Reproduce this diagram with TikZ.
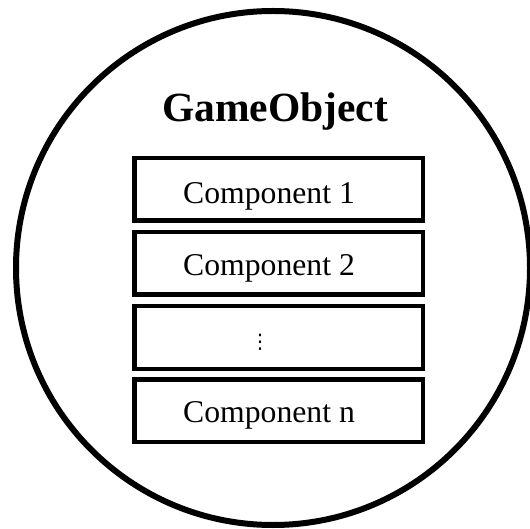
\documentclass[tikz,border=0pt]{standalone}
\usepackage{fontspec}
\setmainfont{Liberation Serif}
\newfontfamily\dvsans{DejaVu Sans}
\begin{document}
\begin{tikzpicture}[x=1pt,y=-1pt,
  compbox/.style={draw, line width=4.5pt, minimum width=288.5pt, minimum height=62.5pt, inner sep=0pt},
  comptext/.style={anchor=base, inner sep=0pt, font=\fontsize{31.7}{38}\selectfont},
  titletext/.style={anchor=base, inner sep=0pt, font=\fontsize{41.5}{50}\selectfont\bfseries}]
\useasboundingbox (0,0) rectangle (530,529);
\begin{scope}
  \clip (0,0) rectangle (530,529);
  \draw[line width=6pt] (273,268) circle (257pt);
\end{scope}
\node[titletext] (title) at (275,122) {GameObject};
\node[compbox] (b1) at (278.75,189.5) {};
\node[compbox] (b2) at (278.75,263.5) {};
\node[compbox] (b3) at (278.75,337.5) {};
\node[compbox] (b4) at (278.75,410.5) {};
\node[comptext] (t1) at (269,203.5) {Component 1};
\node[comptext] (t2) at (269,275.5) {Component 2};
\node[inner sep=0pt, font=\dvsans\fontsize{20}{24}\selectfont] (t3) at (260,342.5) {⋮};
\node[comptext] (t4) at (269,422.5) {Component n};
\end{tikzpicture}
\end{document}
